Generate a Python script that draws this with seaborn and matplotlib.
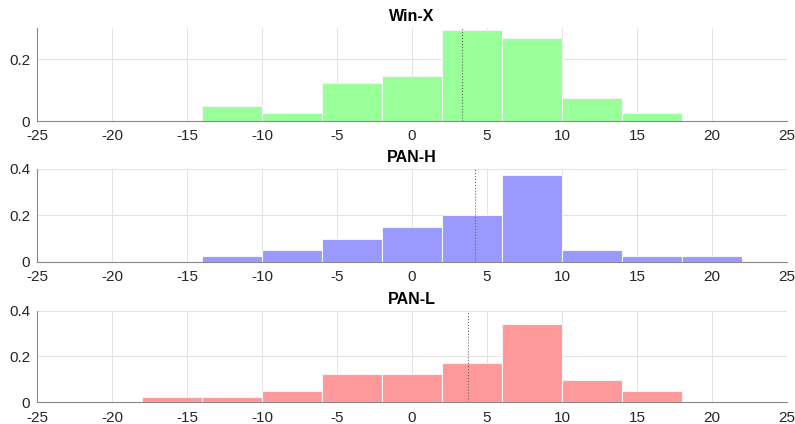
import numpy as np
import pandas as pd
import matplotlib
matplotlib.use("Agg")
import matplotlib.pyplot as plt
import seaborn as sns

sns.set_style("white")
plt.rcParams['font.family'] = ['Liberation Sans', 'DejaVu Sans']
plt.rcParams['axes.unicode_minus'] = False

# bin centres shared by all three histograms (width 4, from -26 to 26)
centers = np.arange(-24, 25, 4)

titles = ["Win-X", "PAN-H", "PAN-L"]
# probability per bin
winx = [0, 0, 0, 2/41, 1/41, 5/41, 6/41, 12/41, 11/41, 3/41, 1/41, 0, 0]
panh = [0, 0, 0, 1/40, 2/40, 4/40, 6/40, 8/40, 15/40, 2/40, 1/40, 1/40, 0]
panl = [0, 0, 1/41, 1/41, 2/41, 5/41, 5/41, 7/41, 14/41, 4/41, 2/41, 0, 0]
means = [3.36, 4.23, 3.73]
colors = ["#99ff99", "#9999ff", "#ff9999"]
ylims = [0.3, 0.4, 0.4]
yticks = [[0, 0.2], [0, 0.2, 0.4], [0, 0.2, 0.4]]

fig = plt.figure(figsize=(7.95, 4.24), dpi=100)
boxes = [[0.0465, 0.7146, 0.9435, 0.219],
         [0.0465, 0.3825, 0.9435, 0.219],
         [0.0465, 0.0512, 0.9435, 0.216]]

for i, vals in enumerate([winx, panh, panl]):
    ax = fig.add_axes(boxes[i])
    df = pd.DataFrame({"x": centers, "w": vals})
    sns.histplot(data=df, x="x", weights="w", binwidth=4, binrange=(-26, 26),
                 stat="count", color=colors[i], alpha=1, edgecolor="#f4f4f4",
                 linewidth=0.8, ax=ax)
    ax.axvline(means[i], color="#666666", linestyle=":", linewidth=0.8)
    ax.set_xlim(-25, 25)
    ax.set_ylim(0, ylims[i])
    ax.set_xticks(range(-25, 26, 5))
    ax.set_yticks(yticks[i])
    ax.set_yticklabels([("%g" % t) for t in yticks[i]])
    ax.grid(True, color="#e3e3e3", linewidth=0.7)
    ax.set_axisbelow(True)
    for s in ["top", "right"]:
        ax.spines[s].set_visible(False)
    for s in ["left", "bottom"]:
        ax.spines[s].set_color("#888888")
        ax.spines[s].set_linewidth(0.8)
    ax.tick_params(direction="in", length=4, width=0.8, color="#444444",
                   labelsize=11, labelcolor="#262626")
    ax.tick_params(axis="x", pad=6)
    ax.tick_params(axis="y", pad=5)
    ax.set_xlabel("")
    ax.set_ylabel("")
    ax.set_title(titles[i], fontsize=11.5, fontweight="bold", color="black", pad=5)

plt.savefig("out.png", dpi=100)
